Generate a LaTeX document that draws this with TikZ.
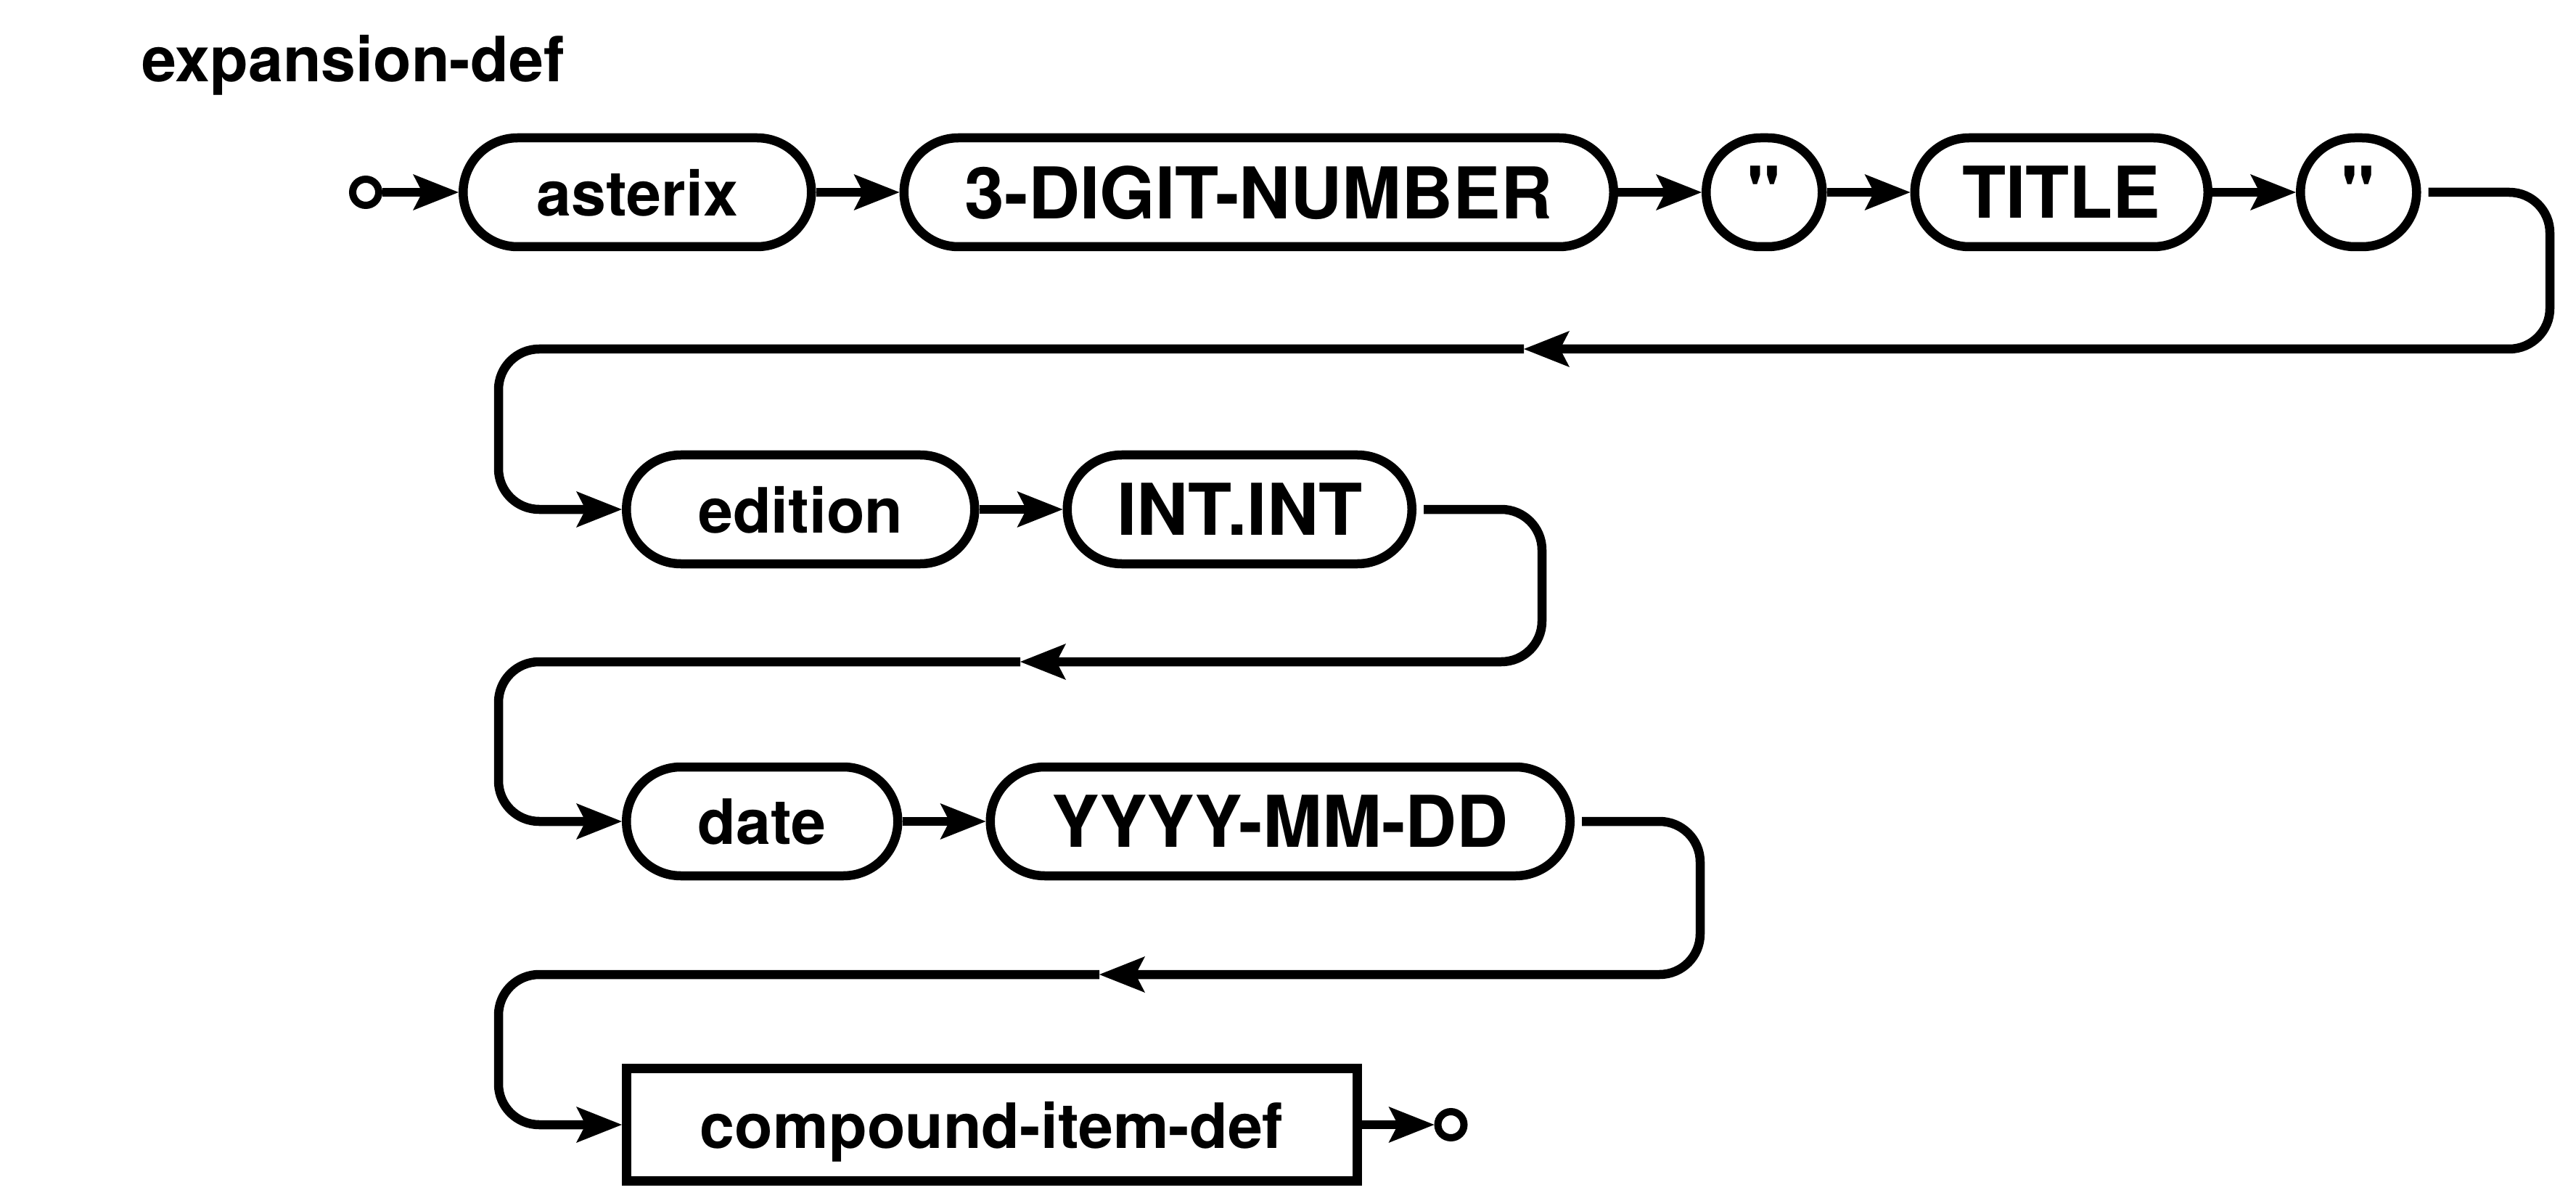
\documentclass[tikz,border=0pt]{standalone}
\usepackage{fontspec}
\setsansfont{TeX Gyre Heros}[Ligatures=TeXOff]
\usepackage{tikz}
\usetikzlibrary{arrows.meta,positioning,calc}
\tikzset{
  kw/.style={draw, line width=0.125cm, rounded corners=0.75cm, fill=white, minimum height=1.5cm,
    inner sep=0pt, text depth=0pt, font=\sffamily\bfseries\fontsize{24.5pt}{28pt}\selectfont},
  tok/.style={kw, font=\sffamily\bfseries\fontsize{28pt}{32pt}\selectfont},
  nonterm/.style={draw, line width=0.125cm, fill=white, minimum height=1.55cm,
    inner sep=0pt, text depth=0pt, font=\sffamily\bfseries\fontsize{24.5pt}{28pt}\selectfont},
  dot/.style={draw, circle, line width=0.1cm, minimum size=0.36cm, inner sep=0pt},
  link/.style={line width=0.125cm, rounded corners=0.56cm},
  flow/.style={link, -{Stealth[length=0.63cm, width=0.5cm, inset=0.13cm, line width=0pt]}},
  heading/.style={anchor=base west, inner sep=0pt, font=\sffamily\bfseries\fontsize{24.5pt}{28pt}\selectfont}
}
\begin{document}
\begin{tikzpicture}
  \useasboundingbox (0,0) rectangle (35.5,16.5);
  \node[heading] (name) at (1.95,15.37) {expansion-def};
  % row 1
  \node[dot] (start) at (5.04,13.85) {};
  \node[kw, anchor=west, minimum width=4.8cm] (asterix) at (6.32,13.85) {asterix};
  \node[tok, right=1.15cm of asterix, minimum width=9.78cm] (num) {3-DIGIT-NUMBER};
  \node[tok, right=1.15cm of num, minimum width=1.6cm] (q1) {"};
  \node[tok, right=1.15cm of q1, minimum width=4.04cm] (titl) {TITLE};
  \node[tok, right=1.15cm of titl, minimum width=1.6cm] (q2) {"};
  % row 2
  \node[kw, anchor=west, minimum width=4.8cm] (edition) at (8.57,9.48) {edition};
  \node[tok, right=1.15cm of edition, minimum width=4.75cm] (intint) {INT.INT};
  % row 3
  \node[kw, anchor=west, minimum width=3.74cm] (date) at (8.57,5.18) {date};
  \node[tok, right=1.15cm of date, minimum width=7.99cm] (ymd) {YYYY-MM-DD};
  % row 4
  \node[nonterm, anchor=west, minimum width=10.07cm] (compound) at (8.57,1.0) {compound-item-def};
  \node[dot, right=1.0cm of compound] (end) {};
  % turn points
  \coordinate (turnA) at (35.14,11.69);
  \coordinate (midA) at (21.0,11.69);
  \coordinate (leftA) at (6.87,11.69);
  \coordinate (turnB) at (21.25,7.38);
  \coordinate (midB) at (14.06,7.38);
  \coordinate (leftB) at (6.87,7.38);
  \coordinate (turnC) at (23.43,3.07);
  \coordinate (midC) at (15.15,3.07);
  \coordinate (leftC) at (6.87,3.07);
  % connectors
  \draw[flow] (start.east) -- (asterix.west);
  \draw[flow] (asterix.east) -- (num.west);
  \draw[flow] (num.east) -- (q1.west);
  \draw[flow] (q1.east) -- (titl.west);
  \draw[flow] (titl.east) -- (q2.west);
  \draw[flow, shorten <=0.1cm] (q2.east) -| (turnA) -- (midA);
  \draw[flow] (midA) -- (leftA) |- (edition.west);
  \draw[flow] (edition.east) -- (intint.west);
  \draw[flow, shorten <=0.1cm] (intint.east) -| (turnB) -- (midB);
  \draw[flow] (midB) -- (leftB) |- (date.west);
  \draw[flow] (date.east) -- (ymd.west);
  \draw[flow, shorten <=0.1cm] (ymd.east) -| (turnC) -- (midC);
  \draw[flow] (midC) -- (leftC) |- (compound.west);
  \draw[flow] (compound.east) -- (end.west);
\end{tikzpicture}
\end{document}
